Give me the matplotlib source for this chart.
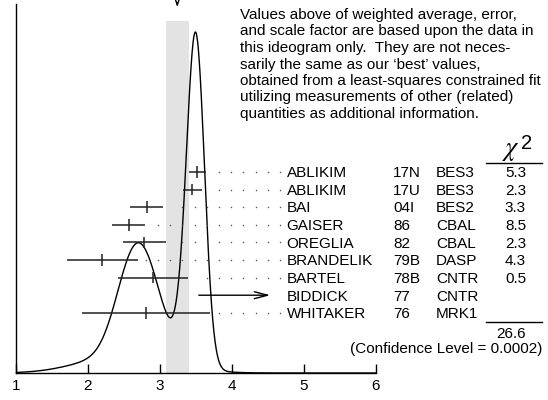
import numpy as np
import matplotlib.pyplot as plt
from matplotlib.lines import Line2D

plt.rcParams['font.family'] = ['Liberation Sans', 'DejaVu Sans']

authors = ['ABLIKIM', 'ABLIKIM', 'BAI', 'GAISER', 'OREGLIA', 'BRANDELIK', 'BARTEL', 'BIDDICK', 'WHITAKER']
refs = ['17N', '17U', '04I', '86', '82', '79B', '78B', '77', '76']
expts = ['BES3', 'BES3', 'BES2', 'CBAL', 'CBAL', 'DASP', 'CNTR', 'CNTR', 'MRK1']
values = [3.52, 3.45, 2.815, 2.565, 2.78, 2.20, 2.90, np.nan, 2.80]
errors = [0.116, 0.13, 0.23, 0.225, 0.30, 0.49, 0.49, np.nan, 0.89]
chi2 = ['5.3', '2.3', '3.3', '8.5', '2.3', '4.3', '0.5', '', '']
used = [True, True, True, True, True, True, True, False, False]
chi2_total = '26.6'
conf_level = '0.0002'
limit_value = 3.5      # BIDDICK, shown as an arrow
limit_arrow_end = 4.57
avg = 3.24
avg_err = 0.16

note = ["Values above of weighted average, error,",
        "and scale factor are based upon the data in",
        "this ideogram only.  They are not neces-",
        "sarily the same as our \u2018best\u2019 values,",
        "obtained from a least-squares constrained fit",
        "utilizing measurements of other (related)",
        "quantities as additional information."]

W, H = 548, 400
def fx(x):
    return x / W
def fy(y):
    return 1 - y / H

fs = 11

fig = plt.figure(figsize=(5.48, 4), dpi=100)
ax = fig.add_axes([fx(16), 27 / H, 360 / W, 369 / H])

# ideogram: each measurement a gaussian with area ~ 1/sigma
xs = np.linspace(1, 6, 1500)
ideo = np.zeros_like(xs)
for v, e, u in zip(values, errors, used):
    if u:
        ideo += np.exp(-0.5 * ((xs - v) / e) ** 2) / e ** 2

ax.axvspan(avg - avg_err, avg + avg_err, ymin=0, ymax=(373 - 21) / 369,
           color='#e3e3e3', lw=0, zorder=0)
ax.plot(xs, ideo, color='black', lw=1.0, zorder=3)
ax.set_xlim(1, 6)
ax.set_ylim(0, ideo.max() * 369 / 341)

for s in ['top', 'right']:
    ax.spines[s].set_visible(False)
ax.spines['left'].set_linewidth(1.0)
ax.spines['bottom'].set_linewidth(1.0)
ax.set_yticks([])
ax.set_xticks([1, 2, 3, 4, 5, 6])
ax.tick_params(axis='x', direction='in', length=6.5, width=1, pad=4, labelsize=fs)

# weighted average arrow at the top
ax.annotate('', xy=(avg, (373 - 10) / 369), xytext=(avg, 373 / 369),
            xycoords=('data', 'axes fraction'), annotation_clip=False,
            arrowprops=dict(arrowstyle='->,head_length=0.6,head_width=0.2', lw=1, color='black'))

# measurement rows
ax2 = ax.twinx()
ax2.set_ylim(11.42, -9.545)
ax2.axis('off')

dot_step = 12.2 / 72
dot_grid = 4.667 - dot_step * np.arange(30)
for i, (v, e) in enumerate(zip(values, errors)):
    if np.isnan(v):
        ax2.annotate('', xy=(limit_arrow_end, i), xytext=(limit_value, i),
                     annotation_clip=False,
                     arrowprops=dict(arrowstyle='->,head_length=0.95,head_width=0.25', lw=1, color='black'))
        continue
    ax2.hlines(i, v - e, v + e, color='#222222', lw=1.1)
    ax2.vlines(v, i - 0.33, i + 0.33, color='#222222', lw=1.1)
    d = dot_grid[dot_grid > v + e + 0.11]
    ax2.plot(d, np.full(len(d), i), ls='none', marker='o', ms=1.1, mew=0, color='#555555')

for i in range(len(authors)):
    yb = fy(172 + 17.6 * i + 5.3)
    fig.text(fx(286.5), yb, authors[i], fontsize=fs, va='baseline')
    fig.text(fx(393), yb, refs[i], fontsize=fs, va='baseline')
    fig.text(fx(436), yb, expts[i], fontsize=fs, va='baseline')
    fig.text(fx(526), yb, chi2[i], fontsize=fs, va='baseline', ha='right')

for k, line in enumerate(note):
    fig.text(fx(240), fy(19 + 16.5 * k), line, fontsize=fs, va='baseline')

fig.text(fx(502), fy(155), r'$\chi$', fontsize=19, va='baseline', math_fontfamily='stix')
fig.text(fx(521), fy(149), '2', fontsize=14.5, va='baseline')
fig.add_artist(Line2D([fx(486), fx(541.5)], [fy(163), fy(163)], color='black', lw=1))
fig.add_artist(Line2D([fx(486), fx(541.5)], [fy(322), fy(322)], color='black', lw=1))
fig.text(fx(526), fy(338.5), chi2_total, fontsize=fs, va='baseline', ha='right')
fig.text(fx(542), fy(353), '(Confidence Level = ' + conf_level + ')', fontsize=fs,
         va='baseline', ha='right')

fig.savefig('out.png', dpi=100)
